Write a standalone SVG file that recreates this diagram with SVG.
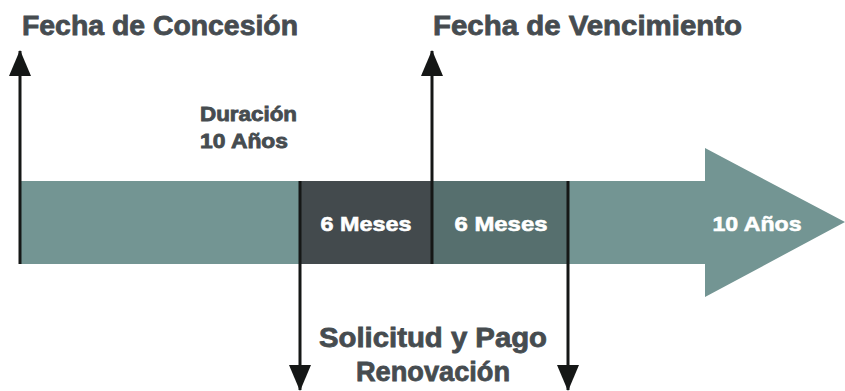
<svg xmlns="http://www.w3.org/2000/svg" width="845" height="391" viewBox="0 0 845 391">
<defs>
<style>
.t{font-family:"Liberation Sans",Arial,sans-serif;font-weight:bold;fill:#464c50;stroke:#464c50;stroke-width:0.8}
.w{font-family:"Liberation Sans",Arial,sans-serif;font-weight:bold;fill:#ffffff;stroke:#ffffff;stroke-width:0.6;font-size:21px}
.ln{stroke:#151716;stroke-width:3;fill:none}
</style>
<marker id="ah" viewBox="0 0 26 22" refX="25" refY="11" markerWidth="26" markerHeight="22" markerUnits="userSpaceOnUse" orient="auto-start-reverse">
<path d="M0 0 L26 11 L0 22 Z" fill="#151716"/>
</marker>
</defs>
<g id="band">
<path d="M19 181 H705 V148 L845 222 L705 297 V264 H19 Z" fill="#739593"/>
<rect x="300" y="181" width="132" height="83" fill="#434a4d"/>
<rect x="432" y="181" width="136" height="83" fill="#566f6e"/>
<text class="w" x="366" y="231" text-anchor="middle" textLength="91" lengthAdjust="spacingAndGlyphs">6 Meses</text>
<text class="w" x="501" y="231" text-anchor="middle" textLength="93" lengthAdjust="spacingAndGlyphs">6 Meses</text>
<text class="w" x="757" y="231" text-anchor="middle" textLength="89" lengthAdjust="spacingAndGlyphs">10 Años</text>
</g>
<g id="connectors">
<line class="ln" x1="20" y1="264" x2="20" y2="51" marker-end="url(#ah)"/>
<line class="ln" x1="432" y1="264" x2="432" y2="51" marker-end="url(#ah)"/>
<line class="ln" x1="300" y1="181" x2="300" y2="390" marker-end="url(#ah)"/>
<line class="ln" x1="568" y1="181" x2="568" y2="390" marker-end="url(#ah)"/>
</g>
<g id="concesion">
<text class="t" x="22" y="35" font-size="28" textLength="276" lengthAdjust="spacingAndGlyphs">Fecha de Concesión</text>
</g>
<g id="vencimiento">
<text class="t" x="433" y="35" font-size="28" textLength="309" lengthAdjust="spacingAndGlyphs">Fecha de Vencimiento</text>
</g>
<g id="duracion">
<text class="t" x="200" y="121" font-size="20" textLength="97" lengthAdjust="spacingAndGlyphs">Duración</text>
<text class="t" x="200" y="148" font-size="20" textLength="88" lengthAdjust="spacingAndGlyphs">10 Años</text>
</g>
<g id="solicitud">
<text class="t" x="433" y="347" font-size="28" text-anchor="middle" textLength="228" lengthAdjust="spacingAndGlyphs">Solicitud y Pago</text>
<text class="t" x="433" y="381" font-size="28" text-anchor="middle" textLength="154" lengthAdjust="spacingAndGlyphs">Renovación</text>
</g>
</svg>
